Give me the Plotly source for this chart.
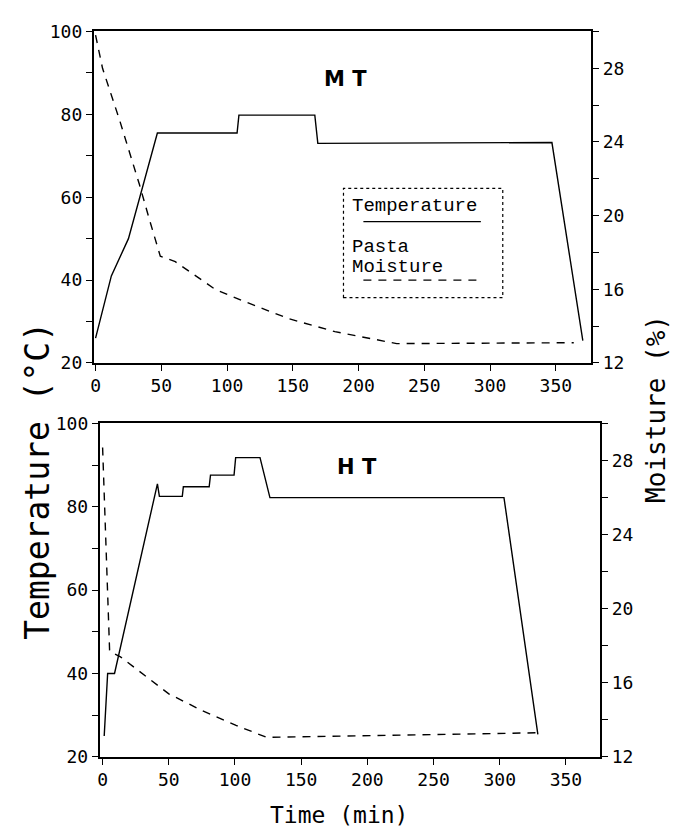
import plotly.graph_objects as go

W, H = 676, 839

# ---- data ----
mt_temp_time = [0, 12, 25, 47, 107.6, 109, 166.7, 169, 347, 370.5]
mt_temp_val = [26, 41, 50, 75.5, 75.5, 79.8, 79.8, 73.0, 73.2, 25.4]

mt_moist_time = [0, 5.3, 18.2, 33.3, 40.9, 49.2, 60.6, 90.9, 111, 147, 182, 229, 363.6]
mt_moist_val = [29.8, 28.0, 25.2, 21.7, 19.8, 17.8, 17.5, 16.0, 15.4, 14.4, 13.7, 13.05, 13.1]

ht_temp_time = [1.2, 3.8, 9, 41.4, 42.9, 60.2, 61, 80.5, 81.5, 99.3, 100.5, 118.9, 126.4, 303.2, 328.8]
ht_temp_val = [25.0, 40, 40, 85.5, 82.5, 82.5, 84.8, 84.8, 87.6, 87.6, 91.8, 91.8, 82.2, 82.2, 25.4]

ht_moist_time = [0, 5.3, 13.5, 30, 50, 75, 100.8, 124, 329]
ht_moist_val = [28.7, 17.7, 17.4, 16.5, 15.4, 14.5, 13.7, 13.05, 13.3]

time_ticks = [0, 50, 100, 150, 200, 250, 300, 350]
temp_ticks = [20, 40, 60, 80, 100]
moist_ticks = [12, 16, 20, 24, 28]


def px(x):
    return x / W


def py(y):
    return 1 - y / H


TICKFONT = dict(family="DejaVu Sans Mono", size=18, color="black")
LINE = dict(color="black", width=1.4)
DASH = dict(color="black", width=1.4, dash="8px,7px")

fig = go.Figure()
fig.add_trace(go.Scatter(x=mt_temp_time, y=mt_temp_val, mode="lines", line=LINE,
                         xaxis="x", yaxis="y", name="Temperature"))
fig.add_trace(go.Scatter(x=mt_moist_time, y=mt_moist_val, mode="lines", line=DASH,
                         xaxis="x", yaxis="y2", name="Pasta Moisture"))
fig.add_trace(go.Scatter(x=ht_temp_time, y=ht_temp_val, mode="lines", line=LINE,
                         xaxis="x2", yaxis="y3", name="Temperature"))
fig.add_trace(go.Scatter(x=ht_moist_time, y=ht_moist_val, mode="lines", line=DASH,
                         xaxis="x2", yaxis="y4", name="Pasta Moisture"))

common = dict(showline=True, linecolor="black", linewidth=1.5, showgrid=False,
              zeroline=False, ticks="outside", ticklen=6, tickwidth=1.3,
              tickcolor="black", tickfont=TICKFONT, fixedrange=True)


def xax(domain, rng, anchor):
    return dict(domain=domain, range=rng, anchor=anchor, tickvals=time_ticks,
                mirror=True, **common)


def ylax(domain, anchor):
    return dict(domain=domain, range=[20, 100], anchor=anchor, tickvals=temp_ticks,
                side="left",
                minor=dict(dtick=10, tick0=0, ticks="outside", ticklen=6,
                           tickcolor="black", tickwidth=1.3),
                **common)


def yrax(domain, anchor, over):
    return dict(domain=domain, range=[12, 30], anchor=anchor, overlaying=over,
                side="right", tickvals=moist_ticks,
                minor=dict(dtick=2, tick0=12, ticks="outside", ticklen=6,
                           tickcolor="black", tickwidth=1.3),
                **common)


top_x = [px(91), px(591)]
top_y = [py(361), py(21)]
bot_x = [px(97), px(600)]
bot_y = [py(765), py(423)]

shapes = []
# legend box (dotted)
shapes.append(dict(type="rect", xref="paper", yref="paper",
                   x0=px(342), x1=px(502), y0=py(294), y1=py(182),
                   line=dict(color="black", width=1.2, dash="dot")))
shapes.append(dict(type="line", xref="paper", yref="paper",
                   x0=px(362), x1=px(480), y0=py(216), y1=py(216),
                   line=dict(color="black", width=1.4)))
shapes.append(dict(type="line", xref="paper", yref="paper",
                   x0=px(362), x1=px(480), y0=py(276), y1=py(276),
                   line=dict(color="black", width=1.4, dash="8px,7px")))

LEGFONT = dict(family="Liberation Mono", size=19, color="black")
annotations = [
    dict(text="Temperature", x=px(349), y=py(200), xref="paper", yref="paper",
         xanchor="left", yanchor="middle", showarrow=False, font=LEGFONT),
    dict(text="Pasta", x=px(349), y=py(242), xref="paper", yref="paper",
         xanchor="left", yanchor="middle", showarrow=False, font=LEGFONT),
    dict(text="Moisture", x=px(349), y=py(263), xref="paper", yref="paper",
         xanchor="left", yanchor="middle", showarrow=False, font=LEGFONT),
    dict(text="<b>M T</b>", x=px(344), y=py(70), xref="paper", yref="paper",
         xanchor="center", yanchor="middle", showarrow=False,
         font=dict(family="DejaVu Sans", size=21, color="black")),
    dict(text="<b>H T</b>", x=px(356), y=py(468), xref="paper", yref="paper",
         xanchor="center", yanchor="middle", showarrow=False,
         font=dict(family="DejaVu Sans", size=21, color="black")),
    dict(text="Temperature (°C)", x=px(35), y=py(482), xref="paper", yref="paper",
         xanchor="center", yanchor="middle", textangle=-90, showarrow=False,
         font=dict(family="DejaVu Sans Mono", size=33, color="black")),
    dict(text="Moisture (%)", x=px(656), y=py(408), xref="paper", yref="paper",
         xanchor="center", yanchor="middle", textangle=-90, showarrow=False,
         font=dict(family="DejaVu Sans Mono", size=26, color="black")),
    dict(text="Time (min)", x=px(337), y=py(825), xref="paper", yref="paper",
         xanchor="center", yanchor="middle", showarrow=False,
         font=dict(family="DejaVu Sans Mono", size=23, color="black")),
]

fig.update_layout(
    width=W, height=H, margin=dict(l=0, r=0, t=0, b=0),
    paper_bgcolor="white", plot_bgcolor="white", showlegend=False,
    xaxis=xax(top_x, [-1.5, 377], "y"),
    yaxis=ylax(top_y, "x"),
    yaxis2=yrax(top_y, "x", "y"),
    xaxis2=xax(bot_x, [-2.3, 376], "y3"),
    yaxis3=ylax(bot_y, "x2"),
    yaxis4=yrax(bot_y, "x2", "y3"),
    shapes=shapes, annotations=annotations,
)

fig.write_html("out.html")
